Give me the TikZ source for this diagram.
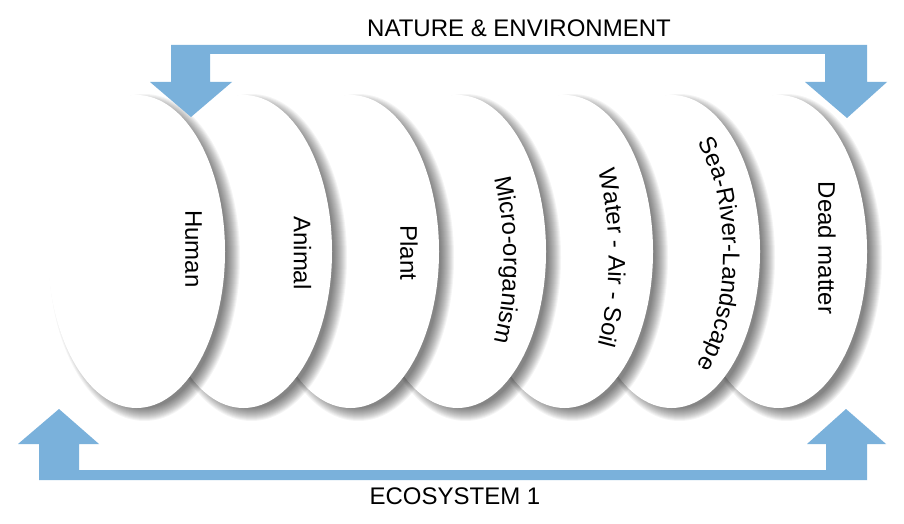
\documentclass[tikz,border=0pt]{standalone}
\usepackage{fontspec}
\setmainfont{Liberation Sans}
\usetikzlibrary{decorations.text}
\definecolor{arrowblue}{RGB}{122,177,219}
\tikzset{
  oval/.style={fill=white, draw=none},
  lbl/.style={font=\fontsize{24}{24}\selectfont, rotate=-90, inner sep=0pt},
  heading/.style={font=\fontsize{24}{24}\selectfont, inner sep=0pt, anchor=base},
  arrowshape/.style={fill=arrowblue, draw=none},
  curvelbl/.style={decorate, decoration={text along path, text align=center, text={|\fontsize{24}{24}\selectfont|#1}}}
}
\newcommand\ovalwithshadow[1]{%
  \foreach \i in {1,...,14}{
    \fill[black, opacity=0.042] ([shift={(8pt,-6pt)}]#1) ellipse [x radius={96.5pt-\i pt}, y radius={164.5pt-\i pt}];
  }
  \fill[oval] (#1) ellipse [x radius=88.5pt, y radius=156.5pt];
}
\begin{document}
\begin{tikzpicture}[x=1pt, y=1pt]
\fill[white] (0,0) rectangle (904,523);
\useasboundingbox (0,0) rectangle (904,523);

% centers
\coordinate (cHuman)  at (136.5,271.5);
\coordinate (cAnimal) at (243.5,271.5);
\coordinate (cPlant)  at (350.5,271.5);
\coordinate (cMicro)  at (457.5,271.5);
\coordinate (cWater)  at (564.5,271.5);
\coordinate (cSea)    at (671.5,271.5);
\coordinate (cDead)   at (778.5,271.5);

% Dead matter
\ovalwithshadow{cDead}
\node[lbl] (tDead) at (827,275) {Dead matter};
% Sea
\ovalwithshadow{cSea}
\path[curvelbl=Sea-River-Landscape] (671.5,269) ++(75:51.5pt and 128pt) arc[start angle=75, end angle=-75, x radius=51.5pt, y radius=128pt];
% Water
\ovalwithshadow{cWater}
\path[curvelbl={Water - Air - Soil}] (564.5,265) ++(60:44pt and 135pt) arc[start angle=60, end angle=-60, x radius=44pt, y radius=135pt];
% Micro
\ovalwithshadow{cMicro}
\path[curvelbl=Micro-organism] (457.5,263) ++(60:46pt and 135pt) arc[start angle=60, end angle=-60, x radius=46pt, y radius=135pt];
% Plant
\ovalwithshadow{cPlant}
\node[lbl] (tPlant) at (409,270) {Plant};
% Animal
\ovalwithshadow{cAnimal}
\node[lbl] (tAnimal) at (302.5,270) {Animal};
% Human
\ovalwithshadow{cHuman}
\node[lbl] (tHuman) at (193.5,274) {Human};

% top arrow (NATURE & ENVIRONMENT)
\fill[arrowshape] (150,441) -- (171,441) -- (171,478) -- (867,478) -- (867,441) -- (887,441)
  -- (847,405) -- (805,441) -- (825,441) -- (825,469) -- (210,469) -- (210,441) -- (232,441)
  -- (191,406) -- cycle;
% bottom arrow (ECOSYSTEM 1)
\fill[arrowshape] (18,79) -- (59,114) -- (99,79) -- (79,79) -- (79,53) -- (826,53) -- (826,79)
  -- (807,79) -- (846,114) -- (886,79) -- (867,79) -- (867,43) -- (39,43) -- (39,79) -- cycle;

\node[heading] (top) at (519,486) {NATURE \& ENVIRONMENT};
\node[heading] (bottom) at (455,19) {ECOSYSTEM 1};
\end{tikzpicture}
\end{document}
